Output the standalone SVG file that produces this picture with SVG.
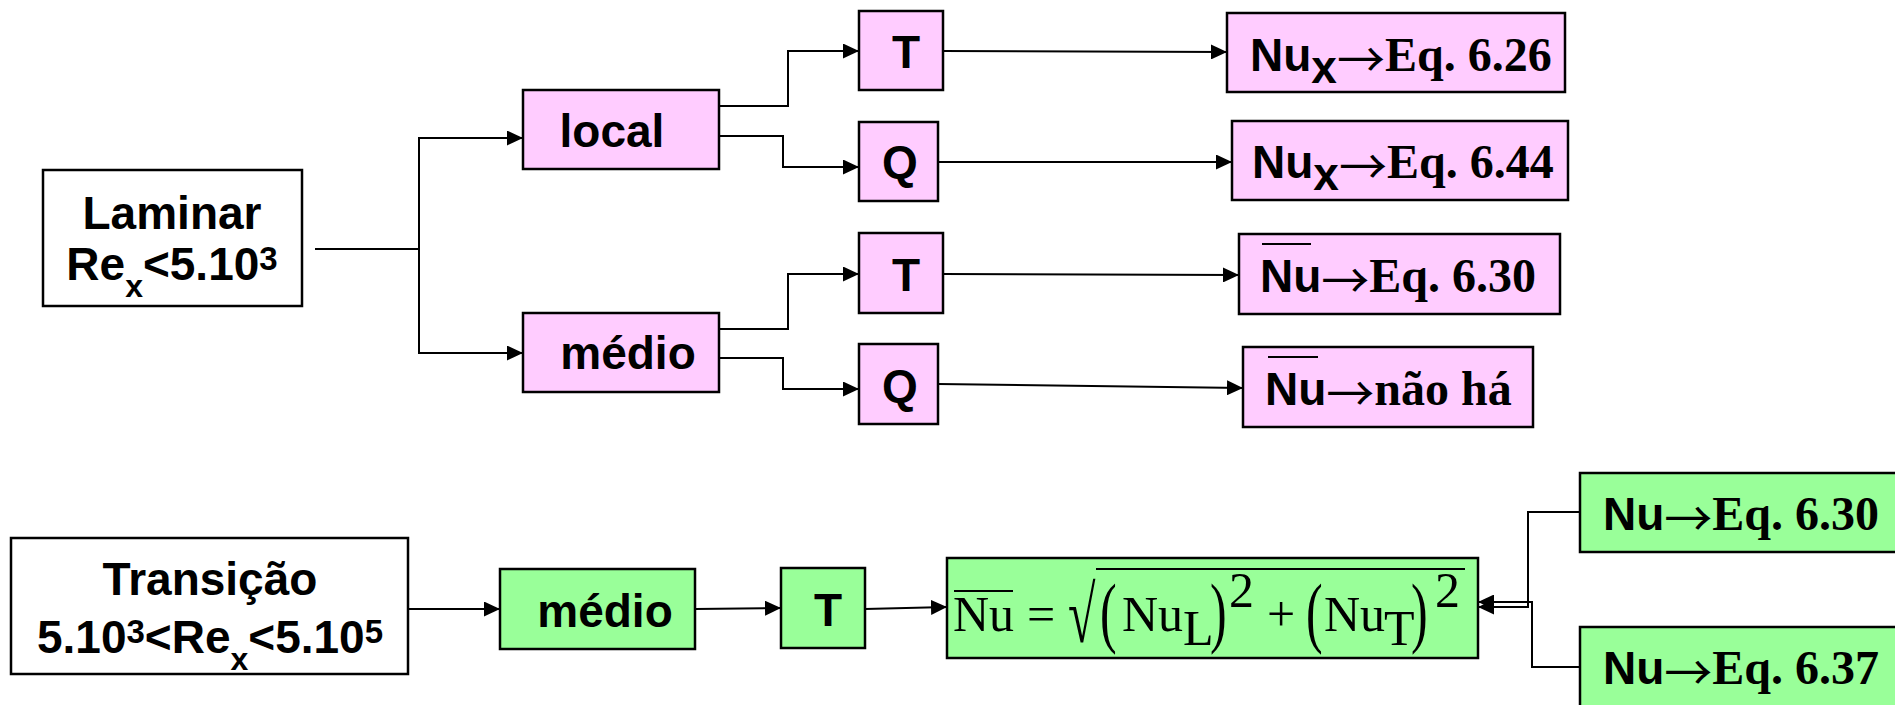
<svg xmlns="http://www.w3.org/2000/svg" width="1895" height="705" viewBox="0 0 1895 705">
<defs>
<marker id="ah" markerUnits="userSpaceOnUse" markerWidth="16" markerHeight="15" refX="16" refY="7.5" orient="auto"><path d="M0,0 L16,7.5 L0,15 z" fill="#000"/></marker>
<style>
.box{stroke:#000;stroke-width:2.5}
.w{fill:#fff}
.p{fill:#ffccff}
.g{fill:#99ff99}
.ab{font-family:"Liberation Sans",Arial,sans-serif;font-weight:bold;font-size:46px;fill:#000}
.tb{font-family:"Liberation Serif","Times New Roman",serif;font-weight:bold;font-size:48px;fill:#000}
.ar{font-family:"Noto Sans CJK JP","Liberation Serif",serif;font-weight:normal;font-size:48px;fill:#000}
.tr{font-family:"Liberation Serif","Times New Roman",serif;font-size:50px;fill:#000}
.c{fill:none;stroke:#000;stroke-width:2}
.ol{stroke:#000;stroke-width:2}
</style>
</defs>
<g id="connectors">
<path class="c" d="M315,249 H419"/>
<path class="c" d="M419,249 V138 H523" marker-end="url(#ah)"/>
<path class="c" d="M419,249 V353 H523" marker-end="url(#ah)"/>
<path class="c" d="M715,106 H788 V51 H859" marker-end="url(#ah)"/>
<path class="c" d="M705,136 H783 V167 H859" marker-end="url(#ah)"/>
<path class="c" d="M715,329 H788 V274 H859" marker-end="url(#ah)"/>
<path class="c" d="M705,358 H783 V389 H859" marker-end="url(#ah)"/>
<path class="c" d="M943,51 L1227,52" marker-end="url(#ah)"/>
<path class="c" d="M938,162 L1232,162" marker-end="url(#ah)"/>
<path class="c" d="M943,274 L1239,275" marker-end="url(#ah)"/>
<path class="c" d="M938,384 L1243,388" marker-end="url(#ah)"/>
<path class="c" d="M408,609 H500" marker-end="url(#ah)"/>
<path class="c" d="M695,609 L781,608" marker-end="url(#ah)"/>
<path class="c" d="M865,609 L947,607" marker-end="url(#ah)"/>
<path class="c" d="M1580,512 H1528 V607 H1478" marker-end="url(#ah)"/>
<path class="c" d="M1580,667 H1532 V602 H1478" marker-end="url(#ah)"/>
</g>
<g id="laminar">
<rect class="box w" x="43" y="170" width="259" height="136"/>
<text class="ab" x="172" y="229" text-anchor="middle">Laminar</text>
<text class="ab" x="172" y="280" text-anchor="middle">Re<tspan font-size="32" dy="17">x</tspan><tspan dy="-17">&lt;5.10</tspan><tspan font-size="33" dy="-10">3</tspan></text>
</g>
<g id="local">
<rect class="box p" x="523" y="90" width="196" height="79"/>
<text class="ab" x="612" y="147" text-anchor="middle">local</text>
</g>
<g id="medio1">
<rect class="box p" x="523" y="313" width="196" height="79"/>
<text class="ab" x="628" y="369" text-anchor="middle">médio</text>
</g>
<g id="T1">
<rect class="box p" x="859" y="11" width="84" height="79"/>
<text class="ab" x="906" y="68" text-anchor="middle">T</text>
</g>
<g id="Q1">
<rect class="box p" x="859" y="122" width="79" height="79"/>
<text class="ab" x="900" y="178" text-anchor="middle">Q</text>
</g>
<g id="T2">
<rect class="box p" x="859" y="233" width="84" height="80"/>
<text class="ab" x="906" y="291" text-anchor="middle">T</text>
</g>
<g id="Q2">
<rect class="box p" x="859" y="344" width="79" height="80"/>
<text class="ab" x="900" y="402" text-anchor="middle">Q</text>
</g>
<g id="eq626">
<rect class="box p" x="1227" y="13" width="338" height="79"/>
<text x="1250" y="71"><tspan class="ab">Nu</tspan><tspan class="ab" font-size="32" dy="12">x</tspan><tspan class="ar" dy="-6">→</tspan><tspan class="tb" dy="-6">Eq. 6.26</tspan></text>
</g>
<g id="eq644">
<rect class="box p" x="1232" y="121" width="336" height="79"/>
<text x="1252" y="178"><tspan class="ab">Nu</tspan><tspan class="ab" font-size="32" dy="12">x</tspan><tspan class="ar" dy="-6">→</tspan><tspan class="tb" dy="-6">Eq. 6.44</tspan></text>
</g>
<g id="eq630a">
<rect class="box p" x="1239" y="234" width="321" height="80"/>
<line class="ol" x1="1262" y1="244" x2="1311" y2="244"/>
<text x="1260" y="292"><tspan class="ab">Nu</tspan><tspan class="ar" dy="6">→</tspan><tspan class="tb" dy="-6">Eq. 6.30</tspan></text>
</g>
<g id="naoha">
<rect class="box p" x="1243" y="347" width="290" height="80"/>
<line class="ol" x1="1268" y1="357" x2="1318" y2="357"/>
<text x="1265" y="405"><tspan class="ab">Nu</tspan><tspan class="ar" dy="6">→</tspan><tspan class="tb" dy="-6">não há</tspan></text>
</g>
<g id="transicao">
<rect class="box w" x="11" y="538" width="397" height="136"/>
<text class="ab" x="210" y="595" text-anchor="middle" font-size="47">Transição</text>
<text class="ab" x="210" y="653" text-anchor="middle" font-size="47">5.10<tspan font-size="33" dy="-10">3</tspan><tspan dy="10">&lt;Re</tspan><tspan font-size="32" dy="17">x</tspan><tspan dy="-17">&lt;5.10</tspan><tspan font-size="33" dy="-10">5</tspan></text>
</g>
<g id="medio2">
<rect class="box g" x="500" y="569" width="195" height="80"/>
<text class="ab" x="605" y="627" text-anchor="middle">médio</text>
</g>
<g id="T3">
<rect class="box g" x="781" y="568" width="84" height="80"/>
<text class="ab" x="828" y="626" text-anchor="middle">T</text>
</g>
<g id="formula">
<rect class="box g" x="947" y="558" width="531" height="100"/>
<line class="ol" x1="954" y1="591" x2="1013" y2="591"/>
<text class="tr" x="953" y="631">Nu</text>
<text class="tr" x="1027" y="631">=</text>
<text class="tr" transform="translate(1068,642) scale(1,1.6)">√</text>
<line class="ol" x1="1096" y1="569" x2="1465" y2="569"/>
<text class="tr" transform="translate(1100,638) scale(1,1.56)">(</text>
<text class="tr" x="1122" y="631">Nu</text>
<text class="tr" x="1183" y="645" font-size="37">L</text>
<text class="tr" transform="translate(1210,638) scale(1,1.56)">)</text>
<text class="tr" x="1229" y="607" font-size="42">2</text>
<text class="tr" x="1267" y="631">+</text>
<text class="tr" transform="translate(1306,638) scale(1,1.56)">(</text>
<text class="tr" x="1324" y="631">Nu</text>
<text class="tr" x="1384" y="645" font-size="37">T</text>
<text class="tr" transform="translate(1411,638) scale(1,1.56)">)</text>
<text class="tr" x="1435" y="607" font-size="42">2</text>
</g>
<g id="eq630b">
<rect class="box g" x="1580" y="473" width="330" height="79"/>
<text x="1603" y="530"><tspan class="ab">Nu</tspan><tspan class="ar" dy="6">→</tspan><tspan class="tb" dy="-6">Eq. 6.30</tspan></text>
</g>
<g id="eq637">
<rect class="box g" x="1580" y="627" width="330" height="90"/>
<text x="1603" y="684"><tspan class="ab">Nu</tspan><tspan class="ar" dy="6">→</tspan><tspan class="tb" dy="-6">Eq. 6.37</tspan></text>
</g>
</svg>
